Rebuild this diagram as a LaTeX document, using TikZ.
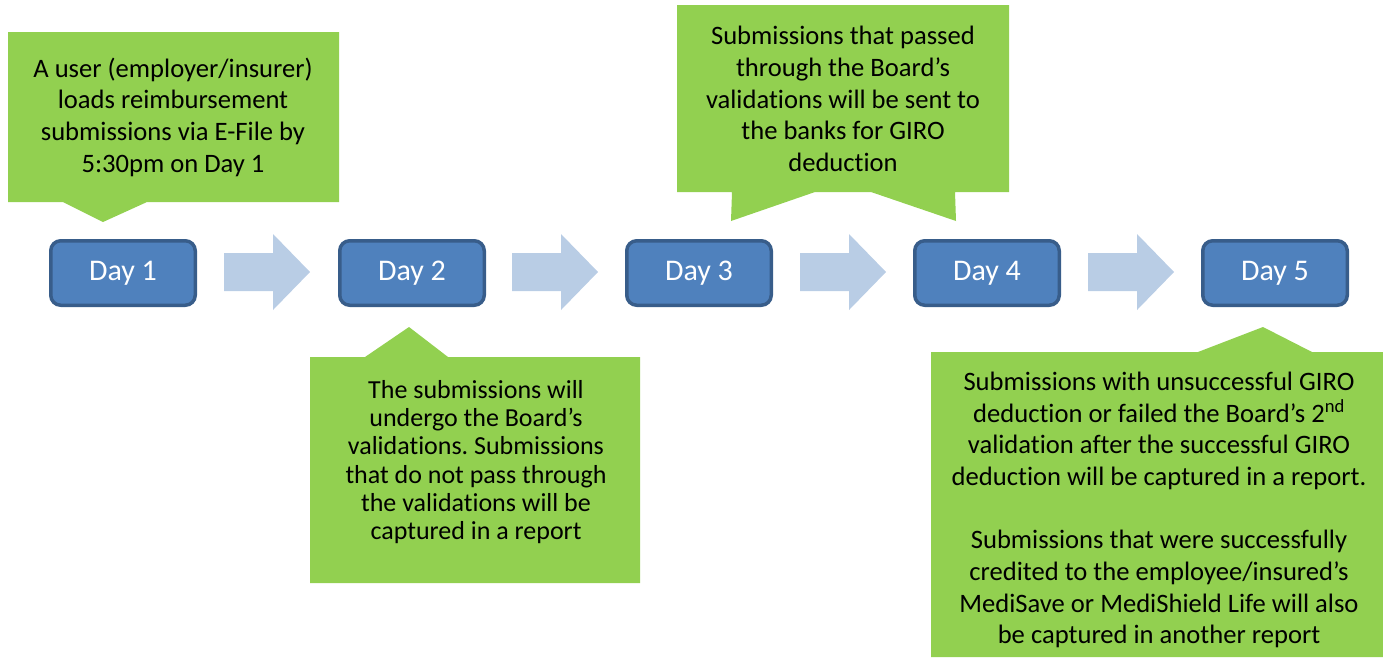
\documentclass[tikz,border=0pt]{standalone}
\usepackage{fontspec}
\setmainfont{Carlito}[Ligatures=NoCommon]
\frenchspacing
\definecolor{callgreen}{HTML}{92D050}
\definecolor{dayfill}{HTML}{4F81BD}
\definecolor{dayline}{HTML}{385D8A}
\definecolor{arrowblue}{HTML}{B9CDE5}
\begin{document}
\begin{tikzpicture}[x=1pt,y=-1pt,
  daybox/.style={draw=dayline,fill=dayfill,line width=3.5pt,rounded corners=10pt,
    minimum width=144.5pt,minimum height=64.5pt,text=white,
    font=\fontsize{30}{36}\selectfont,inner sep=0pt},
  calltext/.style={align=center,text=black,inner sep=0pt,font=\fontsize{26.6}{31.7}\selectfont},
  bluearrow/.style={fill=arrowblue},
  callout/.style={fill=callgreen}]
\useasboundingbox (0,0) rectangle (1383,657);
% day boxes
\node[daybox] (d1) at (123,273) {Day 1};
\node[daybox] (d2) at (412,273) {Day 2};
\node[daybox] (d3) at (699,273) {Day 3};
\node[daybox] (d4) at (987,273) {Day 4};
\node[daybox] (d5) at (1275,273) {Day 5};
% block arrows
\foreach \x in {224,512,800,1088}{
  \fill[bluearrow] (\x,253) -- (\x+49,253) -- (\x+49,234) -- (\x+86,272) -- (\x+49,310) -- (\x+49,291) -- (\x,291) -- cycle;
}
% callout 1
\fill[callout] (8,32) -- (339,32) -- (339,202) -- (147,202) -- (103,222) -- (63,202) -- (8,202) -- cycle;
\node[calltext] (t1) at (173,117) {A user (employer/insurer)\\loads reimbursement\\submissions via E-File by\\5:30pm on Day 1};
% callout 2
\fill[callout] (310,357) -- (365,357) -- (409,327) -- (448,357) -- (640,357) -- (640,583) -- (310,583) -- cycle;
\node[calltext,font=\fontsize{26}{28.3}\selectfont] (t2) at (476,462) {The submissions will\\undergo the Board’s\\validations. Submissions\\that do not pass through\\the validations will be\\captured in a report};
% callout 3
\fill[callout] (677,5) -- (1009,5) -- (1009,192) -- (955,192) -- (956,221) -- (871,192) -- (815,192) -- (731,221) -- (732,192) -- (677,192) -- cycle;
\node[calltext] (t3) at (843,99) {Submissions that passed\\through the Board’s\\validations will be sent to\\the banks for GIRO\\deduction};
% callout 5
\fill[callout] (931,352) -- (1198,352) -- (1263,327) -- (1312,352) -- (1383,352) -- (1383,657) -- (931,657) -- cycle;
\node[calltext] (t5) at (1159,510) {Submissions with unsuccessful GIRO\\deduction or failed the Board’s 2\textsuperscript{nd}\\validation after the successful GIRO\\deduction will be captured in a report.\\[31.7pt]Submissions that were successfully\\credited to the employee/insured’s\\MediSave or MediShield Life will also\\be captured in another report};
\end{tikzpicture}
\end{document}
